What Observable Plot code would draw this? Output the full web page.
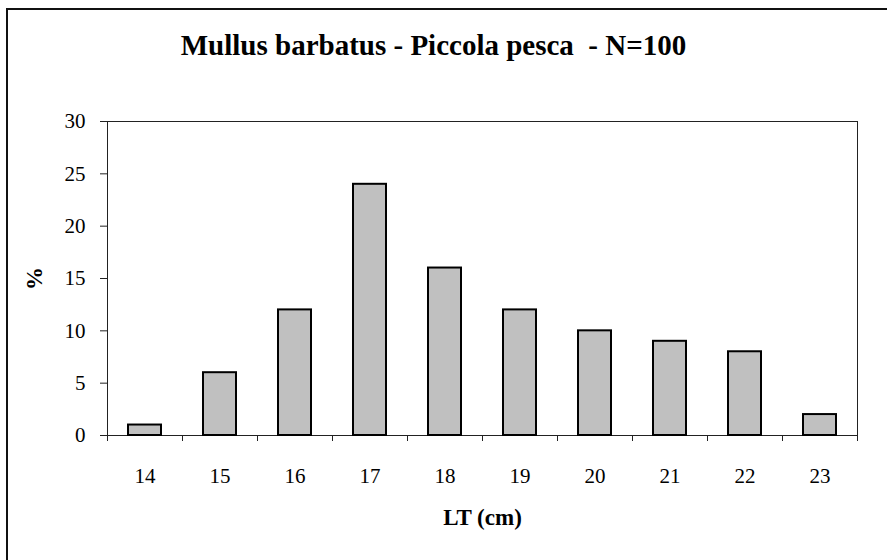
<!DOCTYPE html>
<html>
<head>
<meta charset="utf-8">
<script src="https://cdn.jsdelivr.net/npm/d3@7"></script>
<script src="https://cdn.jsdelivr.net/npm/@observablehq/plot@0.6"></script>
<style>
  html, body { margin: 0; padding: 0; background: #fff; }
  #wrap { position: relative; width: 887px; height: 560px; overflow: hidden; background: #fff; }
  #title { position: absolute; left: 0; width: 867px; top: 31px; text-align: center;
           font-family: "Liberation Serif", "Times New Roman", serif; font-weight: bold; font-size: 29px;
           line-height: 1; color: #000; white-space: pre; }
  #border { position: absolute; left: 6px; top: 8px; width: 2000px; height: 2000px;
            border-top: 2px solid #111; border-left: 2px solid #111; pointer-events: none; }
  #chart svg { position: absolute; left: 0; top: 0; }
  #chart [aria-label="y-axis label"], #chart [aria-label="x-axis label"] { font-weight: bold; font-size: 23px; }
</style>
</head>
<body>
<div id="wrap">
  <div id="chart"></div>
  <div id="title"></div>
  <div id="border"></div>
</div>
<script>
const titleText = "Mullus barbatus - Piccola pesca  - N=100";
const xLabel = "LT (cm)";
const yLabel = "%";
const lengths = [14, 15, 16, 17, 18, 19, 20, 21, 22, 23];
const percents = [1, 6, 12, 24, 16, 12, 10, 9, 8, 2];
const yTicks = [0, 5, 10, 15, 20, 25, 30];

const data = lengths.map((lt, i) => ({lt, pct: percents[i]}));
const boundaries = lengths.map(v => v - 0.5).concat([lengths[lengths.length - 1] + 0.5]);

document.getElementById("title").textContent = titleText;

const plot = Plot.plot({
  width: 887,
  height: 560,
  marginLeft: 107,
  marginRight: 30,
  marginTop: 121,
  marginBottom: 125,
  style: {fontFamily: "'Liberation Serif', 'Times New Roman', serif", fontSize: "21px", color: "#000", background: "transparent"},
  x: {domain: [lengths[0] - 0.5, lengths[lengths.length - 1] + 0.5]},
  y: {domain: [0, 30]},
  marks: [
    Plot.frame({stroke: "#222", strokeWidth: 1}),
    Plot.rectY(data, {x1: d => d.lt - 0.5, x2: d => d.lt + 0.5, y: "pct", insetLeft: 21, insetRight: 21,
                      fill: "#C0C0C0", stroke: "#000", strokeWidth: 2}),
    Plot.axisY({ticks: yTicks, tickSize: 7, tickPadding: 15, label: yLabel, labelAnchor: "center",
                labelArrow: "none", labelOffset: 82, stroke: "#222"}),
    Plot.axisX({ticks: boundaries, tickSize: 6, tickFormat: () => "", label: null, stroke: "#222"}),
    Plot.axisX({ticks: lengths, tickSize: 0, tickPadding: 33, tickFormat: d => String(d),
                label: xLabel, labelAnchor: "center", labelArrow: "none", labelOffset: 89})
  ]
});
document.getElementById("chart").appendChild(plot);
</script>
</body>
</html>
